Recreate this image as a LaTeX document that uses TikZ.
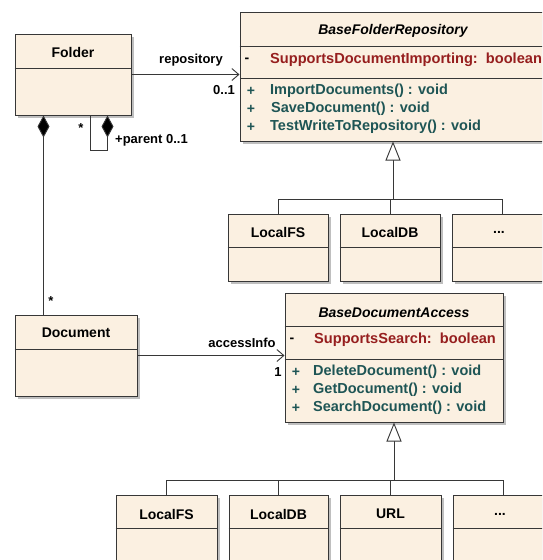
\documentclass[tikz,border=0pt]{standalone}
\usepackage{fontspec}
\setmainfont{Liberation Sans}
\usetikzlibrary{arrows.meta,shadows}
\definecolor{clsfill}{RGB}{251,240,225}
\definecolor{clsline}{RGB}{55,55,55}
\definecolor{attrred}{RGB}{150,30,30}
\definecolor{methteal}{RGB}{30,85,85}
\begin{document}
\begin{tikzpicture}[x=1pt,y=-1pt,
  cls/.style={draw=clsline, line width=1pt, fill=clsfill, rectangle, inner sep=0pt,
    drop shadow={shadow xshift=3pt,shadow yshift=-3pt,fill=black!25,opacity=1}},
  sep/.style={draw=clsline, line width=1pt},
  ttl/.style={font=\fontsize{14}{16}\selectfont\bfseries, inner sep=0pt},
  ittl/.style={font=\fontsize{14}{16}\selectfont\bfseries\itshape, inner sep=0pt},
  attr/.style={font=\fontsize{14.6}{16}\selectfont\bfseries, text=attrred, inner sep=0pt, anchor=west},
  meth/.style={font=\fontsize{14.5}{16}\selectfont\bfseries, text=methteal, inner sep=0pt, anchor=west},
  vis/.style={font=\fontsize{14}{16}\selectfont\bfseries, inner sep=0pt},
  lbl/.style={font=\fontsize{13}{15}\selectfont\bfseries, inner sep=0pt},
  conn/.style={draw=clsline, line width=0.9pt},
  assoc/.style={conn, -{Straight Barb[length=7pt,width=12pt,line width=0.9pt]}},
  comp/.style={conn, {Diamond[length=22pt,width=12pt,fill=black]}-},
  inh/.style={conn, -{Triangle[open,length=19pt,width=15pt,fill=white,line width=0.9pt]}}
]
\useasboundingbox (0,0) rectangle (542,560);
\fill[white] (0,0) rectangle (542,560);
\begin{scope}
\clip (0,0) rectangle (542,560);

% classes
\node[cls, minimum width=116pt, minimum height=81pt] (folder) at (73,74.5) {};
\node[cls, minimum width=306pt, minimum height=129pt] (bfr) at (393,76.5) {};
\node[cls, minimum width=100pt, minimum height=67pt] (fs1) at (278,247.5) {};
\node[cls, minimum width=100pt, minimum height=67pt] (db1) at (390,247.5) {};
\node[cls, minimum width=100pt, minimum height=67pt] (et1) at (502,247.5) {};
\node[cls, minimum width=122pt, minimum height=81pt] (doc) at (76,355.5) {};
\node[cls, minimum width=218pt, minimum height=129pt] (bda) at (394,357.5) {};
\node[cls, minimum width=101pt, minimum height=105pt] (fs2) at (166.5,547.5) {};
\node[cls, minimum width=99pt, minimum height=105pt] (db2) at (278.5,547.5) {};
\node[cls, minimum width=101pt, minimum height=105pt] (url2) at (390.5,547.5) {};
\node[cls, minimum width=100pt, minimum height=105pt] (et2) at (503,547.5) {};

% separators
\draw[sep] (folder.west |- 0,68) -- (folder.east |- 0,68);
\draw[sep] (bfr.west |- 0,46) -- (bfr.east |- 0,46);
\draw[sep] (bfr.west |- 0,78) -- (bfr.east |- 0,78);
\foreach \n in {fs1,db1,et1} \draw[sep] (\n.west |- 0,247) -- (\n.east |- 0,247);
\draw[sep] (doc.west |- 0,349) -- (doc.east |- 0,349);
\draw[sep] (bda.west |- 0,326) -- (bda.east |- 0,326);
\draw[sep] (bda.west |- 0,359) -- (bda.east |- 0,359);
\foreach \n in {fs2,db2,url2,et2} \draw[sep] (\n.west |- 0,528) -- (\n.east |- 0,528);

% titles
\node[ttl] (tfolder) at (73,52) {Folder};
\node[ittl] (tbfr) at (393,31) {BaseFolderRepository};
\node[ttl] (tfs1) at (278,232) {LocalFS};
\node[ttl] (tdb1) at (390,232) {LocalDB};
\node[ttl] (tet1) at (499,232) {...};
\node[ttl] (tdoc) at (76,333) {Document};
\node[ittl] (tbda) at (394,313) {BaseDocumentAccess};
\node[ttl] (tfs2) at (166.5,514) {LocalFS};
\node[ttl] (tdb2) at (278.5,514) {LocalDB};
\node[ttl] (turl2) at (390.5,514) {URL};
\node[ttl] (tet2) at (500,514) {...};

% BaseFolderRepository members
\node[vis] (v1) at (247,60) {-};
\node[attr] (a1) at (270,60) {SupportsDocumentImporting:\ \ boolean};
\node[vis, text=methteal] (v2) at (251,91) {+};
\node[vis, text=methteal] (v3) at (251,109) {+};
\node[vis, text=methteal] (v4) at (251,127) {+};
\node[meth] (m1) at (270,91) {ImportDocuments() : void};
\node[meth] (m2) at (271,109) {SaveDocument() : void};
\node[meth] (m3) at (270,127) {TestWriteToRepository() : void};

% BaseDocumentAccess members
\node[vis] (v5) at (292,340) {-};
\node[attr] (a2) at (314,340) {SupportsSearch:\ \ boolean};
\node[vis, text=methteal] (v6) at (296,372) {+};
\node[vis, text=methteal] (v7) at (296,390) {+};
\node[vis, text=methteal] (v8) at (296,408) {+};
\node[meth] (m4) at (313,372) {DeleteDocument() : void};
\node[meth] (m5) at (313,390) {GetDocument() : void};
\node[meth] (m6) at (313,408) {SearchDocument() : void};

% associations
\draw[assoc] (folder.east) -- (folder.east -| bfr.west);
\node[lbl] (lrepo) at (191,60) {repository};
\node[lbl] (lrepom) at (224,90) {0..1};
\draw[assoc] (doc.east) -- (doc.east -| bda.west);
\node[lbl] (lacc) at (242,343) {accessInfo};
\node[lbl] (laccm) at (278,372) {1};

% compositions
\draw[comp] ([xshift=29pt]folder.south west) -- ([xshift=29pt]doc.north west);
\node[lbl] (ldocm) at (51,301) {*};
\draw[comp] ([xshift=93pt]folder.south west) -- ++(0,35) -| ([xshift=76pt]folder.south west);
\node[lbl] (lchild) at (81,128) {*};
\node[lbl, anchor=west] (lparent) at (115,140) {+parent 0..1};

% generalizations (top)
\coordinate (j1) at (bfr.south |- 0,199);
\draw[inh] (j1) -- (bfr.south);
\draw[conn] (fs1.north) |- (j1);
\draw[conn] (et1.north) |- (j1);
\draw[conn] (db1.north) -- (db1.north |- j1);

% generalizations (bottom)
\coordinate (j2) at (bda.south |- 0,480);
\draw[inh] (j2) -- (bda.south);
\draw[conn] (fs2.north) |- (j2);
\draw[conn] (et2.north) |- (j2);
\draw[conn] (db2.north) -- (db2.north |- j2);
\draw[conn] (url2.north) -- (url2.north |- j2);
\end{scope}
\end{tikzpicture}
\end{document}
